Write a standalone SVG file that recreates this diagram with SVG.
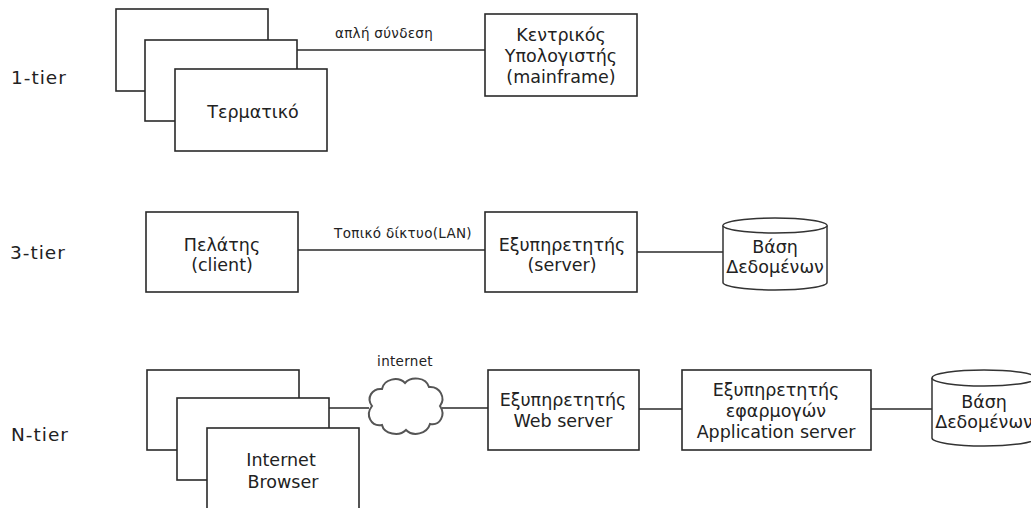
<svg xmlns="http://www.w3.org/2000/svg" width="1031" height="508" viewBox="0 0 1031 508">
<style>
.box{fill:#fff;stroke:#2a2a2a;stroke-width:1.6}
.ln{fill:none;stroke:#2a2a2a;stroke-width:1.6}
.t{font-family:"DejaVu Sans",Verdana,sans-serif;font-size:17.5px;fill:#222;text-anchor:middle}
.s{font-family:"DejaVu Sans",Verdana,sans-serif;font-size:13.5px;letter-spacing:0.3px;fill:#222;text-anchor:middle}
.tier{font-family:"DejaVu Sans",Verdana,sans-serif;font-size:18.5px;fill:#222;letter-spacing:1px}
.cyl{fill:#fff;stroke:#333;stroke-width:1.5}
.cloud{fill:#fff;stroke:#555;stroke-width:2}
</style>
<rect width="1031" height="508" fill="#fff"/>

<g id="labels">
<text class="tier" x="11" y="84">1-tier</text>
<text class="tier" x="10" y="259">3-tier</text>
<text class="tier" x="11" y="441">N-tier</text>
</g>

<g id="connectors">
<line class="ln" x1="297" y1="50" x2="485" y2="50"/>
<text class="s" x="384" y="38">απλή σύνδεση</text>
<line class="ln" x1="298" y1="250" x2="485" y2="250"/>
<text class="s" x="403" y="238">Τοπικό δίκτυο(LAN)</text>
<line class="ln" x1="637" y1="252" x2="723" y2="252"/>
<line class="ln" x1="329" y1="408" x2="369" y2="408"/>
<line class="ln" x1="442" y1="408" x2="488" y2="408"/>
<text class="s" x="405" y="366">internet</text>
<line class="ln" x1="639" y1="409" x2="682" y2="409"/>
<line class="ln" x1="871" y1="409" x2="932" y2="409"/>
</g>

<g id="terminal">
<rect class="box" x="116" y="9" width="152" height="82"/>
<rect class="box" x="145" y="40" width="152" height="81"/>
<rect class="box" x="175" y="69" width="152" height="82"/>
<text class="t" x="253" y="118">Τερματικό</text>
</g>

<g id="mainframe">
<rect class="box" x="485" y="14" width="152" height="82"/>
<text class="t" x="561" y="41">Κεντρικός</text>
<text class="t" x="561" y="62">Υπολογιστής</text>
<text class="t" x="561" y="83">(mainframe)</text>
</g>

<g id="client">
<rect class="box" x="146" y="212" width="152" height="80"/>
<text class="t" x="222" y="251">Πελάτης</text>
<text class="t" x="222" y="271">(client)</text>
</g>

<g id="server">
<rect class="box" x="485" y="212" width="152" height="80"/>
<text class="t" x="562" y="251">Εξυπηρετητής</text>
<text class="t" x="562" y="271">(server)</text>
</g>

<g id="db1">
<path class="cyl" d="M723,225.5 A52,7.5 0 0 1 827,225.5 L827,282.5 A52,7.5 0 0 1 723,282.5 Z"/>
<path class="cyl" d="M723,225.5 A52,7.5 0 0 0 827,225.5"/>
<text class="t" x="775" y="253">Βάση</text>
<text class="t" x="775" y="273">Δεδομένων</text>
</g>

<g id="browsers">
<rect class="box" x="147" y="370" width="152" height="80"/>
<rect class="box" x="177" y="398" width="152" height="82"/>
<rect class="box" x="207" y="428" width="152" height="100"/>
<text class="t" x="281" y="466">Internet</text>
<text class="t" x="283" y="488">Browser</text>
</g>

<g id="internet">
<path class="cloud" d="M372,406 C366,398 372,388 382,389 C384,379 398,376 405,383 C411,376 426,377 429,387 C440,386 446,398 440,406 C446,415 440,426 430,424 C427,434 413,437 406,430 C399,437 384,434 382,425 C371,427 365,415 372,406 Z"/>
</g>

<g id="webserver">
<rect class="box" x="488" y="370" width="151" height="80"/>
<text class="t" x="563" y="406">Εξυπηρετητής</text>
<text class="t" x="563" y="427">Web server</text>
</g>

<g id="appserver">
<rect class="box" x="682" y="370" width="189" height="80"/>
<text class="t" x="776" y="396">Εξυπηρετητής</text>
<text class="t" x="776" y="417">εφαρμογών</text>
<text class="t" x="776" y="438">Application server</text>
</g>

<g id="db2">
<path class="cyl" d="M932,378 A52,8 0 0 1 1036,378 L1036,438 A52,8 0 0 1 932,438 Z"/>
<path class="cyl" d="M932,378 A52,8 0 0 0 1036,378"/>
<text class="t" x="984" y="408">Βάση</text>
<text class="t" x="984" y="428">Δεδομένων</text>
</g>
</svg>
